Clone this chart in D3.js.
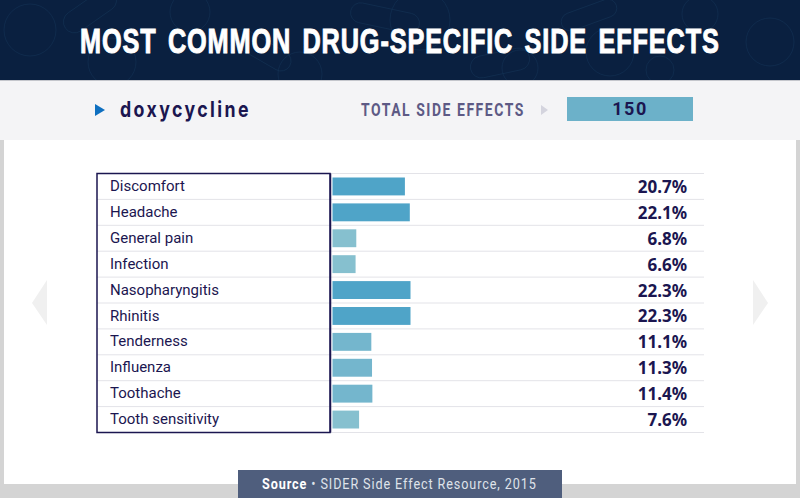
<!DOCTYPE html>
<html>
<head>
<meta charset="utf-8">
<style>
  html, body { margin: 0; padding: 0; background: #d4d4d4; }
  svg { display: block; }
  text { font-family: "Noto Sans", sans-serif; }
</style>
</head>
<body>
<svg class="chart"></svg>
<script src="https://cdn.jsdelivr.net/npm/d3@7"></script>
<script>
const categories = ["Discomfort", "Headache", "General pain", "Infection", "Nasopharyngitis",
    "Rhinitis", "Tenderness", "Influenza", "Toothache", "Tooth sensitivity"];
const values = [20.7, 22.1, 6.8, 6.6, 22.3, 22.3, 11.1, 11.3, 11.4, 7.6];
const titleText = "MOST COMMON DRUG-SPECIFIC SIDE EFFECTS";
const drugName = "doxycycline";
const totalLabel = "TOTAL SIDE EFFECTS";
const totalValue = 150;

const width = 800;
const height = 498;
const navy = "#1b1650";

const svg = d3.select(".chart").attr("width", width).attr("height", height);

// squeeze a text horizontally so it spans the given width
function fitText(text, x, y, target) {
    const natural = text.node().getComputedTextLength();
    text.attr("transform", `translate(${x},${y}) scale(${target / natural},1)`);
}

// Page bands
svg.append("rect").attr("width", width).attr("height", height).attr("fill", "#d4d4d4");
svg.append("rect").attr("x", 4).attr("y", 140).attr("width", 792).attr("height", 344).attr("fill", "#ffffff");
svg.append("rect").attr("y", 80).attr("width", width).attr("height", 60).attr("fill", "#f4f4f6");
svg.append("rect").attr("width", width).attr("height", 80).attr("fill", "#0a2040");

// Faint pill doodles behind the title
svg.append("clipPath").attr("id", "headClip").append("rect").attr("width", width).attr("height", 80);
const doodles = svg.append("g")
    .attr("clip-path", "url(#headClip)")
    .attr("fill", "none")
    .attr("stroke", "#1d4468")
    .attr("stroke-width", 0.7)
    .attr("opacity", 0.45);
[[30, 30, 26], [112, 62, 24], [190, 12, 20], [300, 74, 22], [420, 20, 30], [520, 68, 18],
 [610, 52, 24], [700, 14, 18], [770, 42, 24], [660, 70, 14]].forEach(([cx, cy, r]) => {
    doodles.append("circle").attr("cx", cx).attr("cy", cy).attr("r", r);
});
[[60, 0, 60, 22, -35], [230, 40, 64, 20, 30], [350, 8, 70, 20, 12], [560, 6, 58, 18, -20], [470, 52, 60, 22, -12]].forEach(([x, y, w, h, a]) => {
    doodles.append("rect").attr("x", x).attr("y", y).attr("width", w).attr("height", h).attr("rx", h / 2)
        .attr("transform", `rotate(${a},${x + w / 2},${y + h / 2})`);
});
svg.append("rect").attr("y", 80).attr("width", width).attr("height", 1).attr("fill", "#c4c6cc");

// Title
const title = svg.append("text")
    .attr("fill", "#ffffff")
    .attr("stroke", "#ffffff").attr("stroke-width", 1)
    .style("font-family", "'Liberation Sans', sans-serif")
    .style("font-size", "36px")
    .style("font-weight", 700)
    .style("letter-spacing", "1.2px")
    .style("word-spacing", "5px")
    .text(titleText);
fitText(title, 80, 53, 640);

// Header row
svg.append("path").attr("d", "M95,104 L105,110 L95,116 Z").attr("fill", "#0e6fc0");
const drug = svg.append("text")
    .attr("fill", navy)
    .style("font-family", "Inter, sans-serif")
    .style("font-size", "22px")
    .style("font-weight", 700)
    .style("letter-spacing", "3px")
    .text(drugName);
fitText(drug, 120, 117, 131);
const total = svg.append("text")
    .attr("fill", "#5d5a85")
    .style("font-family", "Roboto, sans-serif")
    .style("font-size", "18px")
    .style("font-weight", 700)
    .style("letter-spacing", "2px")
    .text(totalLabel);
fitText(total, 361, 116, 164);
svg.append("path").attr("d", "M541,105 L548,110 L541,115 Z").attr("fill", "#d4d4de");
svg.append("rect").attr("x", 567).attr("y", 97).attr("width", 126).attr("height", 24).attr("fill", "#6cb1c9");
svg.append("text")
    .attr("x", 630).attr("y", 115)
    .attr("text-anchor", "middle")
    .attr("fill", navy)
    .style("font-family", "Roboto, sans-serif")
    .style("font-size", "18px")
    .style("font-weight", 700)
    .style("letter-spacing", "1.5px")
    .text(totalValue);

// Side arrows
svg.append("path").attr("d", "M47,280 L47,325 L32,303 Z").attr("fill", "#f0f0f0");
svg.append("path").attr("d", "M753,280 L753,325 L768,303 Z").attr("fill", "#f0f0f0");

// Scales
const margin = { top: 173.5, left: 332.5, right: 704, bottom: 432.5 };
const xScale = d3.scaleLinear().domain([0, 22.3]).range([margin.left, 410.5]);
const yScale = d3.scaleBand().domain(categories).range([margin.top, margin.bottom]);
const colorScale = d3.scaleThreshold().domain([8, 15]).range(["#86c0cf", "#74b6cd", "#4fa4c8"]);

// Row rules
const rowLines = d3.range(categories.length + 1).map((i) => margin.top + i * yScale.step());
svg.selectAll(".rule")
    .data(rowLines)
    .join("line")
    .attr("class", "rule")
    .attr("x1", 97).attr("x2", margin.right)
    .attr("y1", (d) => d).attr("y2", (d) => d)
    .attr("stroke", "#e3e3e8");

// Bars
svg.selectAll(".bar")
    .data(values)
    .join("rect")
    .attr("class", "bar")
    .attr("x", margin.left)
    .attr("y", (d, i) => yScale(categories[i]) + 4)
    .attr("width", (d) => xScale(d) - margin.left)
    .attr("height", yScale.bandwidth() - 8)
    .attr("fill", (d) => colorScale(d));

// Label box
svg.append("rect")
    .attr("x", 97).attr("y", margin.top)
    .attr("width", 233).attr("height", margin.bottom - margin.top)
    .attr("fill", "none")
    .attr("stroke", navy)
    .attr("stroke-width", 1.5);
svg.append("line")
    .attr("x1", 330.5).attr("x2", 330.5)
    .attr("y1", margin.top).attr("y2", margin.bottom)
    .attr("stroke", navy)
    .attr("stroke-width", 1.5);

// Category labels
svg.selectAll(".cat")
    .data(categories)
    .join("text")
    .attr("class", "cat")
    .attr("x", 110)
    .attr("y", (d, i) => yScale(d) + yScale.bandwidth() / 2 + (i > 5 ? 4.5 : 5))
    .attr("fill", navy)
    .style("font-family", "Roboto, sans-serif")
    .style("font-size", "15px")
    .text((d) => d);

// Value labels
svg.selectAll(".val")
    .data(values)
    .join("text")
    .attr("class", "val")
    .attr("x", 687)
    .attr("y", (d, i) => yScale(categories[i]) + yScale.bandwidth() / 2 + 6.5)
    .attr("text-anchor", "end")
    .attr("fill", navy)
    .style("font-size", "17px")
    .style("font-weight", 700)
    .text((d) => d.toFixed(1) + "%");

// Source tab
svg.append("rect").attr("x", 238).attr("y", 470).attr("width", 324).attr("height", 28).attr("fill", "#4f5e7d");
const source = svg.append("text")
    .attr("fill", "#ffffff")
    .style("font-family", "Roboto, sans-serif")
    .style("font-size", "14px")
    .style("letter-spacing", "1px");
source.append("tspan").style("font-weight", 700).text("Source");
source.append("tspan").attr("fill", "#dfe3ea").text(" \u2022 SIDER Side Effect Resource, 2015");
fitText(source, 262, 489, 275);
</script>
</body>
</html>
